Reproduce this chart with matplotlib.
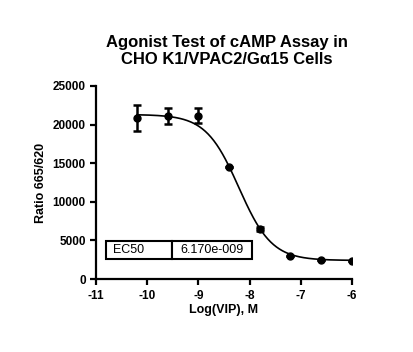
import matplotlib.pyplot as plt
import numpy as np

plt.rcParams['font.family'] = ['Liberation Sans', 'DejaVu Sans']
plt.rcParams['axes.unicode_minus'] = False

# measured points
log_vip = [-10.2, -9.6, -9.0, -8.4, -7.8, -7.2, -6.6, -6.0]
ratio = [20900, 21050, 21100, 14550, 6500, 3020, 2420, 2330]
err_lo = [1700, 950, 950, 0, 300, 0, 0, 0]
err_hi = [1600, 1050, 1000, 0, 300, 0, 0, 0]

# 4PL fit params
fit_top = 21300
fit_bottom = 2420
ec50 = 6.170e-9
hill = 1.35

fig = plt.figure(figsize=(4.14, 3.52), dpi=100)
ax = fig.add_axes([0.232, 0.207, 0.618, 0.549])

xc = np.linspace(-10.2, -6.0, 300)
yc = fit_bottom + (fit_top - fit_bottom) / (1 + 10 ** ((xc - np.log10(ec50)) * hill))
ax.plot(xc, yc, color='black', lw=1.2)
ax.errorbar(log_vip, ratio, yerr=[err_lo, err_hi], fmt='o', color='black',
            ms=5, capsize=3, elinewidth=1.8, capthick=1.8)

ax.set_xlim(-11, -6)
ax.set_ylim(0, 25000)
ax.set_xticks([-11, -10, -9, -8, -7, -6])
ax.set_yticks([0, 5000, 10000, 15000, 20000, 25000])
ax.spines['top'].set_visible(False)
ax.spines['right'].set_visible(False)
for s in ['left', 'bottom']:
    ax.spines[s].set_linewidth(1.6)
ax.tick_params(width=1.6, length=4, labelsize=8.5)
for lab in ax.get_xticklabels() + ax.get_yticklabels():
    lab.set_fontweight('bold')
ax.set_xlabel('Log(VIP), M', fontsize=9, fontweight='bold', labelpad=2)
ax.set_ylabel('Ratio 665/620', fontsize=9, fontweight='bold', labelpad=4)
fig.text(0.548, 0.855, 'Agonist Test of cAMP Assay in\nCHO K1/VPAC2/G\u03b115 Cells',
         ha='center', va='center', fontsize=12, fontweight='bold', linespacing=1.1)

tbl = ax.table(cellText=[['EC50', '6.170e-009']], cellLoc='left',
               bbox=[0.04, 0.105, 0.57, 0.09], colWidths=[0.45, 0.55])
tbl.auto_set_font_size(False)
tbl.set_fontsize(9)
for c in tbl.get_celld().values():
    c.set_linewidth(1.5)
    c.PAD = 0.1

fig.savefig('out.png', dpi=100)
